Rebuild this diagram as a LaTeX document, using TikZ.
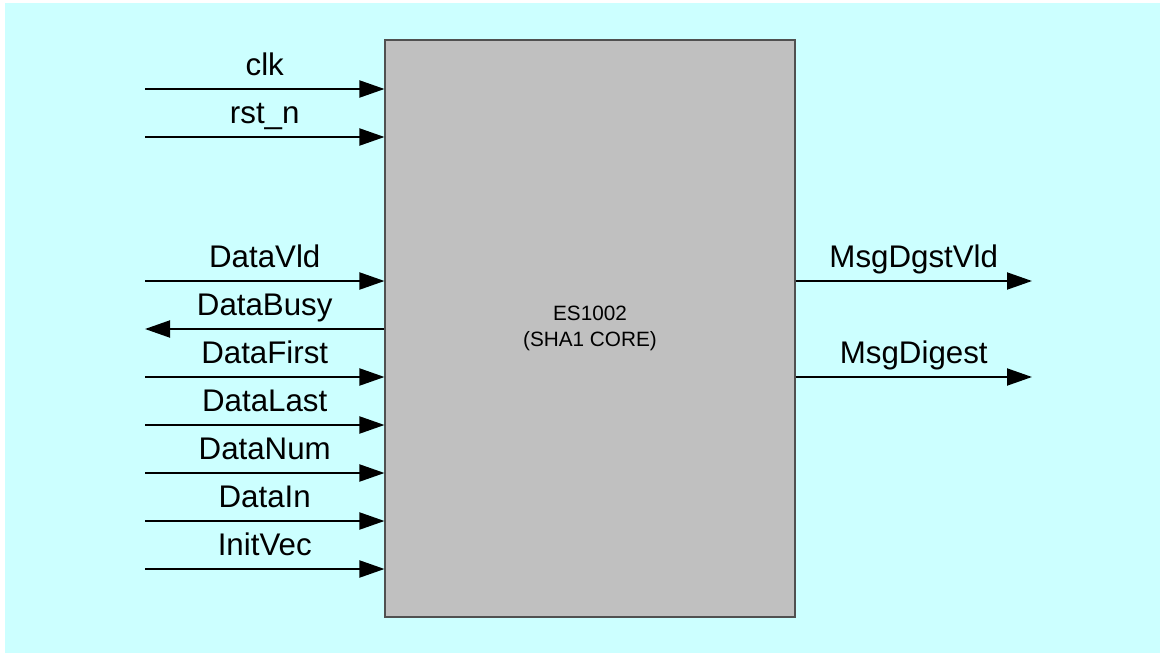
\documentclass[tikz,border=0pt]{standalone}
\usepackage{fontspec}
\setmainfont{Liberation Sans}
\usepackage{tikz}
\usetikzlibrary{arrows.meta, positioning}
\definecolor{sheet}{HTML}{CCFFFF}
\definecolor{corefill}{HTML}{C0C0C0}
\definecolor{coreedge}{HTML}{505050}
\tikzset{
	core/.style={draw=coreedge, line width=0.6pt, fill=corefill,
		minimum width=8.2cm, minimum height=11.54cm, inner sep=0pt,
		align=center, font=\fontsize{11.8}{14.7}\selectfont},
	sig/.style={line width=1.1pt, -{Triangle[length=0.5cm, width=0.34cm]}},
	sigback/.style={line width=1.1pt, {Triangle[length=0.5cm, width=0.34cm]}-},
	lbl/.style={anchor=base, yshift=0.28cm, inner sep=0pt,
		font=\fontsize{17.8}{21}\selectfont},
}

\begin{document}
\begin{tikzpicture}
		\useasboundingbox (0,0) rectangle (23.28,13.12);
		\fill[sheet] (0.1,0.06) rectangle (23.2,13.06);
		\node[core] (sha) at (11.8,6.55) {ES1002\\(SHA1 CORE)};
		% inputs
		\coordinate (clk) at (2.9,11.34);
		\coordinate (rstn) at (2.9,10.38);
		\coordinate (vld) at (2.9,7.5);
		\coordinate (busy) at (2.9,6.54);
		\coordinate (first) at (2.9,5.58);
		\coordinate (last) at (2.9,4.62);
		\coordinate (num) at (2.9,3.66);
		\coordinate (din) at (2.9,2.70);
		\coordinate (ivec) at (2.9,1.74);
		\draw[sig] (clk) -- (sha.west |- clk) node[midway, lbl]{clk};
		\draw[sig] (rstn) -- (sha.west |- rstn) node[midway, lbl]{rst\_n};
		\draw[sig] (vld) -- (sha.west |- vld) node[midway, lbl]{DataVld};
		\draw[sigback] (busy) -- (sha.west |- busy) node[midway, lbl]{DataBusy};
		\draw[sig] (first) -- (sha.west |- first) node[midway, lbl]{DataFirst};
		\draw[sig] (last) -- (sha.west |- last) node[midway, lbl]{DataLast};
		\draw[sig] (num) -- (sha.west |- num) node[midway, lbl]{DataNum};
		\draw[sig] (din) -- (sha.west |- din) node[midway, lbl]{DataIn};
		\draw[sig] (ivec) -- (sha.west |- ivec) node[midway, lbl]{InitVec};
		% outputs
		\coordinate (dvld) at (20.64,7.5);
		\coordinate (dgst) at (20.64,5.58);
		\draw[sig] (sha.east |- dvld) -- (dvld) node[midway, lbl]{MsgDgstVld};
		\draw[sig] (sha.east |- dgst) -- (dgst) node[midway, lbl]{MsgDigest};
	\end{tikzpicture}
\end{document}
